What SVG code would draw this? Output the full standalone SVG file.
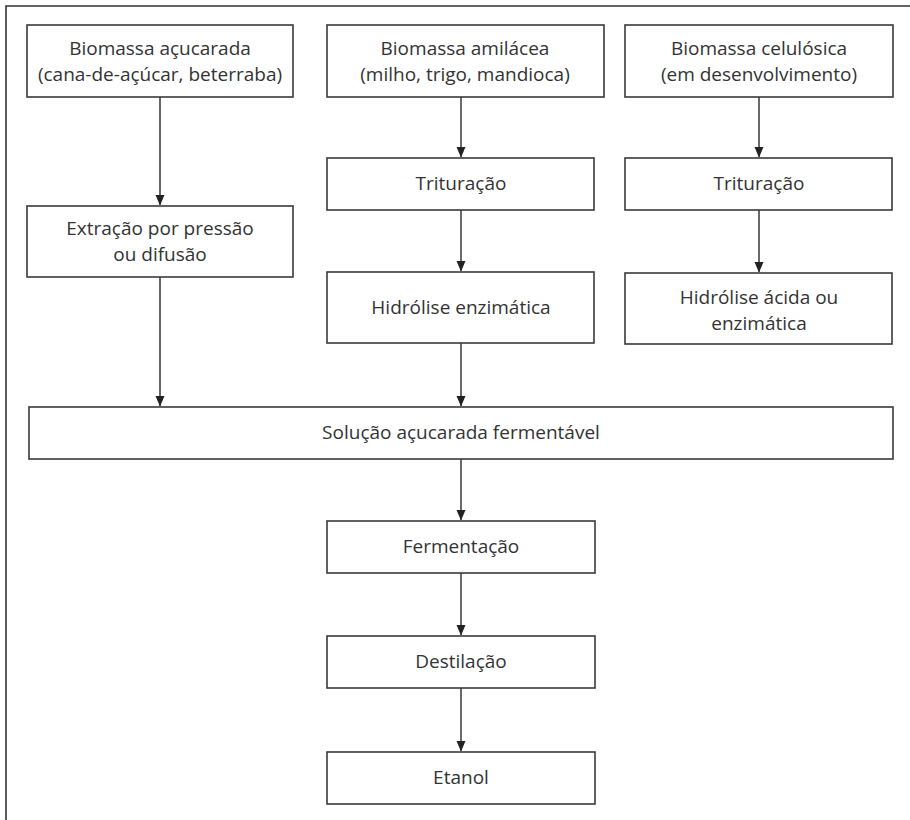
<svg xmlns="http://www.w3.org/2000/svg" width="910" height="820" viewBox="0 0 910 820">
  <style>
    .box { fill: #ffffff; stroke: #3a3a3a; stroke-width: 1.6; }
    .lbl { font-family: "Open Sans", "Noto Sans", "Liberation Sans", sans-serif; font-size: 19px; fill: #333333; text-anchor: middle; }
    .link { stroke: #444444; stroke-width: 1.6; fill: none; marker-end: url(#arrow); }
    .frame { stroke: #333333; stroke-width: 1.6; fill: none; }
  </style>
  <defs>
    <marker id="arrow" markerWidth="11" markerHeight="11" refX="10" refY="5.5" orient="auto" markerUnits="userSpaceOnUse">
      <path d="M0,1 L10.5,5.5 L0,10 Z" fill="#222222"/>
    </marker>
  </defs>

  <rect width="910" height="820" fill="#ffffff"/>
  <path class="frame" d="M6,820 V6 H910"/>

  <g id="connectors">
    <line class="link" x1="160" y1="97" x2="160" y2="205"/>
    <line class="link" x1="160" y1="277" x2="160" y2="406"/>
    <line class="link" x1="461" y1="97" x2="461" y2="157"/>
    <line class="link" x1="461" y1="210" x2="461" y2="271"/>
    <line class="link" x1="461" y1="343" x2="461" y2="406"/>
    <line class="link" x1="759" y1="97" x2="759" y2="157"/>
    <line class="link" x1="759" y1="210" x2="759" y2="272"/>
    <line class="link" x1="461" y1="459" x2="461" y2="520"/>
    <line class="link" x1="461" y1="573" x2="461" y2="635"/>
    <line class="link" x1="461" y1="688" x2="461" y2="751"/>
  </g>

  <g id="biomassa-acucarada">
    <rect class="box" x="27" y="25" width="266" height="72"/>
    <text class="lbl" x="160" y="55">Biomassa açucarada</text>
    <text class="lbl" x="160" y="81">(cana-de-açúcar, beterraba)</text>
  </g>
  <g id="biomassa-amilacea">
    <rect class="box" x="327" y="25" width="277" height="72"/>
    <text class="lbl" x="465" y="55">Biomassa amilácea</text>
    <text class="lbl" x="465" y="81">(milho, trigo, mandioca)</text>
  </g>
  <g id="biomassa-celulosica">
    <rect class="box" x="625" y="25" width="268" height="72"/>
    <text class="lbl" x="759" y="55">Biomassa celulósica</text>
    <text class="lbl" x="759" y="81">(em desenvolvimento)</text>
  </g>

  <g id="extracao">
    <rect class="box" x="27" y="206" width="266" height="71"/>
    <text class="lbl" x="160" y="235">Extração por pressão</text>
    <text class="lbl" x="160" y="261">ou difusão</text>
  </g>
  <g id="trituracao-amilacea">
    <rect class="box" x="327" y="158" width="267" height="52"/>
    <text class="lbl" x="461" y="190">Trituração</text>
  </g>
  <g id="trituracao-celulosica">
    <rect class="box" x="625" y="158" width="267" height="52"/>
    <text class="lbl" x="759" y="190">Trituração</text>
  </g>

  <g id="hidrolise-enzimatica">
    <rect class="box" x="327" y="272" width="267" height="71"/>
    <text class="lbl" x="461" y="314">Hidrólise enzimática</text>
  </g>
  <g id="hidrolise-acida">
    <rect class="box" x="625" y="273" width="267" height="71"/>
    <text class="lbl" x="759" y="304">Hidrólise ácida ou</text>
    <text class="lbl" x="759" y="330">enzimática</text>
  </g>

  <g id="solucao">
    <rect class="box" x="29" y="407" width="864" height="52"/>
    <text class="lbl" x="461" y="439">Solução açucarada fermentável</text>
  </g>
  <g id="fermentacao">
    <rect class="box" x="327" y="521" width="268" height="52"/>
    <text class="lbl" x="461" y="553">Fermentação</text>
  </g>
  <g id="destilacao">
    <rect class="box" x="327" y="636" width="268" height="52"/>
    <text class="lbl" x="461" y="668">Destilação</text>
  </g>
  <g id="etanol">
    <rect class="box" x="327" y="752" width="268" height="52"/>
    <text class="lbl" x="461" y="784">Etanol</text>
  </g>
</svg>
